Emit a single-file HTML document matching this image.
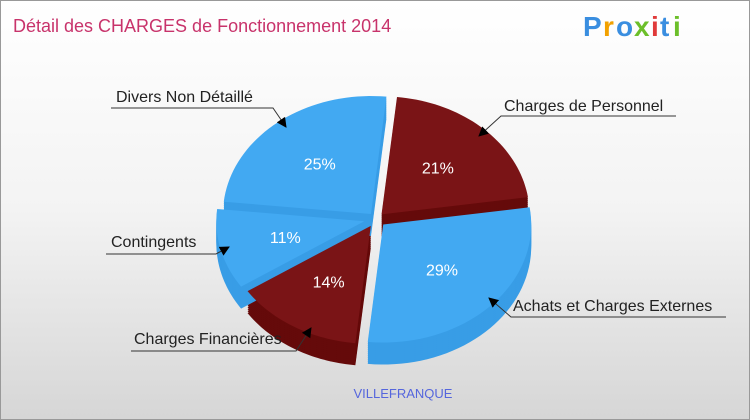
<!DOCTYPE html>
<html><head><meta charset="utf-8"><style>
body{margin:0;}
#c{position:relative;width:748px;height:418px;border:1px solid #999;background:linear-gradient(#fff 0%,#f3f3f3 50%,#d6d6d6 100%);font-family:"Liberation Sans",sans-serif;overflow:hidden}
</style></head><body>
<div id="c">
<svg id="s" width="748" height="418">
<defs><marker id="ar" markerWidth="10" markerHeight="10" refX="9" refY="5" orient="auto" markerUnits="userSpaceOnUse"><path d="M0,0 L10,5 L0,10 z" fill="#000"/></marker></defs>
<text x="12" y="31" font-size="18" fill="#c8336b">Détail des CHARGES de Fonctionnement 2014</text>
<g font-size="28" font-weight="bold" font-family="Liberation Sans,sans-serif">
<text x="582" y="35" fill="#3a8ee0">P</text><text x="602" y="35" fill="#f2a100">r</text><text x="615" y="35" fill="#3a8ee0">o</text><text x="633" y="35" fill="#6cbf2a">x</text><text x="650" y="35" fill="#e03a3a">i</text><text x="659" y="35" fill="#3a8ee0">t</text><text x="672" y="35" fill="#6cbf2a">i</text></g>
<g id="pie"></g>
<g id="lab"></g>
<text x="402" y="397" font-size="13" fill="#5566dd" text-anchor="middle">VILLEFRANQUE</text>
</svg></div>
<script>
const categories=["Charges de Personnel","Achats et Charges Externes","Charges Financières","Contingents","Divers Non Détaillé"];
const values=[21,29,14,11,25];
const cx=375,cy=218,rx=148,ry=118,depth=22,startDeg=-84;
const topCol=["#7a1416","#42a9f2","#7a1416","#42a9f2","#42a9f2"];
const sideCol=["#650a0a","#389de6","#650a0a","#389de6","#389de6"];
const explode=[8,10,10,12,8];
const NS="http://www.w3.org/2000/svg";
const pie=document.getElementById('pie'),lab=document.getElementById('lab');
const total=values.reduce((a,b)=>a+b,0);
let ang=startDeg*Math.PI/180;
const slices=[];
values.forEach((v,i)=>{const s=ang,e=ang+v/total*2*Math.PI;ang=e;const m=(s+e)/2;
 slices.push({s,e,m,ox:Math.cos(m)*explode[i],oy:Math.sin(m)*explode[i]*0.8});});
function slicePath(sl,dy){const {s,e,ox,oy}=sl;const x0=cx+ox,y0=cy+oy+dy;let d=`M${x0},${y0}`;
 const n=40;for(let k=0;k<=n;k++){const t=s+(e-s)*k/n;d+=`L${x0+rx*Math.cos(t)},${y0+ry*Math.sin(t)}`;}return d+'Z';}
slices.forEach((sl,i)=>{for(let d=depth;d>0;d-=2){const p=document.createElementNS(NS,'path');p.setAttribute('d',slicePath(sl,d));p.setAttribute('fill',sideCol[i]);


pie.appendChild(p);}});
slices.forEach((sl,i)=>{const p=document.createElementNS(NS,'path');p.setAttribute('d',slicePath(sl,0));p.setAttribute('fill',topCol[i]);


pie.appendChild(p);
const t=document.createElementNS(NS,'text');t.setAttribute('x',cx+sl.ox+rx*0.55*Math.cos(sl.m));t.setAttribute('y',cy+sl.oy+ry*0.55*Math.sin(sl.m)+6);
t.setAttribute('fill','#fff');t.setAttribute('font-size','16');t.setAttribute('text-anchor','middle');t.textContent=values[i]+'%';


pie.appendChild(t);});
const labels=[
 {tx:503,ty:110,pts:"675,115 500,115 478,135"},
 {tx:512,ty:310,pts:"725,316 510,316 488,297"},
 {tx:133,ty:343,pts:"130,350 295,350 310,327"},
 {tx:110,ty:246,pts:"105,253 215,253 228,246"},
 {tx:115,ty:101,pts:"110,107 272,107 285,126"}];
labels.forEach((l,i)=>{const pl=document.createElementNS(NS,'polyline');pl.setAttribute('points',l.pts);pl.setAttribute('fill','none');pl.setAttribute('stroke','#333');pl.setAttribute('marker-end','url(#ar)');


lab.appendChild(pl);
const t=document.createElementNS(NS,'text');t.setAttribute('x',l.tx);t.setAttribute('y',l.ty);t.setAttribute('font-size','16');t.setAttribute('fill','#222');t.textContent=categories[i];


lab.appendChild(t);});
</script>
</body></html>
